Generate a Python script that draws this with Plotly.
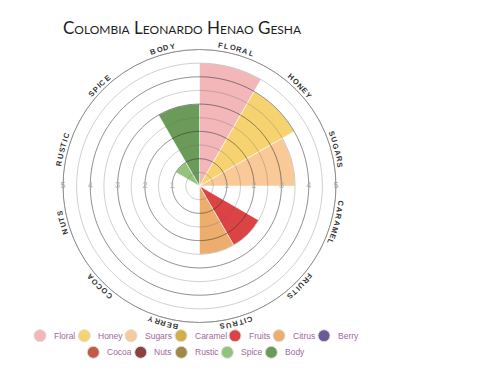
import numpy as np
import plotly.graph_objects as go

# ---------------- data ----------------
categories = ["Floral", "Honey", "Sugars", "Caramel", "Fruits", "Citrus",
              "Berry", "Cocoa", "Nuts", "Rustic", "Spice", "Body"]
values = [4.5, 4.0, 3.5, 0, 2.5, 2.5, 0, 0, 0, 0, 1.0, 3.0]
colors = ["#f3b6b9", "#f6d370", "#f9c997", "#d4ae48", "#dc4345", "#edae6d",
          "#6a5a9c", "#c45c45", "#8e3f3f", "#a08945", "#93c37d", "#6b9b59"]
radial_ticks = [1, 2, 3, 4, 5]
title_text = "Colombia Leonardo Henao Gesha"

# ---------------- layout constants ----------------
W, H = 480, 381
OFF = 8.0                              # page offset of the figure inside the window
CX, CY, RPX = 199.5 - OFF, 186.0 - OFF, 136.5
RMAX = 5
n = len(categories)
step = 360.0 / n
thetas = [(i + 0.5) * step for i in range(n)]

fig = go.Figure()

# bars
for cat, v, c, th in zip(categories, values, colors, thetas):
    fig.add_trace(go.Barpolar(
        r=[v], theta=[th], width=[step], name=cat,
        marker=dict(color=c, line=dict(color="rgba(255,255,255,0.7)", width=0.8)),
        showlegend=False, hoverinfo="name+r"))

# grid circles drawn above the bars
circ = np.linspace(0, 360, 361)
for k in range(1, 2 * RMAX + 1):
    rv = k / 2
    integer = (k % 2 == 0)
    fig.add_trace(go.Scatterpolar(
        r=[rv] * len(circ), theta=circ, mode="lines",
        line=dict(color="rgba(50,50,50,0.55)" if integer else "rgba(110,110,110,0.32)",
                  width=1),
        hoverinfo="skip", showlegend=False))

# radial tick labels on both sides
for side in (90, 270):
    fig.add_trace(go.Scatterpolar(
        r=radial_ticks, theta=[side] * len(radial_ticks), mode="text",
        text=[str(t) for t in radial_ticks],
        textfont=dict(family="Liberation Sans", size=9, color="#b0b0b0"),
        hoverinfo="skip", showlegend=False))

fig.update_layout(
    width=W, height=H, margin=dict(l=0, r=0, t=0, b=0),
    paper_bgcolor="white", plot_bgcolor="rgba(0,0,0,0)",
    polar=dict(
        domain=dict(x=[(CX - RPX) / W, (CX + RPX) / W],
                    y=[1 - (CY + RPX) / H, 1 - (CY - RPX) / H]),
        bgcolor="white",
        radialaxis=dict(range=[0, RMAX], showticklabels=False, showgrid=False,
                        showline=False, ticks=""),
        angularaxis=dict(rotation=90, direction="clockwise", thetaunit="degrees",
                         showticklabels=False, showgrid=False, ticks="",
                         showline=True, linecolor="#8f8f8f", linewidth=1),
    ),
    title=dict(text=title_text, x=(63 - OFF) / W, xanchor="left", xref="paper",
               y=1 - (28 - OFF) / H, yanchor="middle", yref="container",
               font=dict(family="Lato", size=17, color="#1e1e1e", variant="small-caps")),
    xaxis=dict(domain=[0, 1], range=[0, W], visible=False, fixedrange=True),
    yaxis=dict(domain=[0, 1], range=[H, 0], visible=False, fixedrange=True),
)

# curved category labels (one annotation per letter along the outer rim)
cw = {"A": .722, "B": .722, "C": .722, "D": .722, "E": .667, "F": .611, "G": .778,
      "H": .722, "I": .278, "K": .722, "L": .611, "M": .833, "N": .722, "O": .778,
      "P": .667, "R": .722, "S": .667, "T": .611, "U": .722, "Y": .667}
FS = 7.5
TRACK = 1.1
RTXT = 142.0
annos = []
for cat, th in zip(categories, thetas):
    word = cat.upper()
    adv = [cw.get(ch, .7) * FS + TRACK for ch in word]
    total = sum(adv) - TRACK
    pos = -total / 2
    for ch, a in zip(word, adv):
        w = a - TRACK
        centre = pos + w / 2
        phi = th + np.degrees(centre / RTXT)
        pos += a
        rad = np.radians(phi)
        px = CX + RTXT * np.sin(rad)
        py = CY - RTXT * np.cos(rad)
        ang = ((phi + 180) % 360) - 180
        annos.append(dict(x=px / W, y=1 - py / H, xref="paper", yref="paper",
                          text=ch, showarrow=False, xanchor="center", yanchor="middle",
                          textangle=ang,
                          font=dict(family="Liberation Sans", size=FS, color="#333333",
                                    weight="bold")))

# manual legend (rows centred, as in the reference)
row1_x = [40, 84.3, 131, 181, 235, 279, 324]
row2_x = [93.3, 140.7, 181.3, 227.3, 271.3]
row_y = [335.7, 352.3]
leg_x = [x - OFF for x in row1_x + row2_x]
leg_y = [row_y[0] - OFF] * len(row1_x) + [row_y[1] - OFF] * len(row2_x)
fig.add_trace(go.Scatter(
    x=leg_x, y=leg_y, mode="markers",
    marker=dict(size=12, color=colors, line=dict(color="#dddddd", width=1)),
    hoverinfo="skip", showlegend=False, xaxis="x", yaxis="y"))
for cat, x, y in zip(categories, leg_x, leg_y):
    annos.append(dict(x=x + 11.5, y=y, xref="x", yref="y", text=cat, showarrow=False,
                      xanchor="left", yanchor="middle",
                      font=dict(family="Liberation Sans", size=8.5, color="#a0699a")))

fig.update_layout(annotations=annos)
fig.write_html("out.html")
